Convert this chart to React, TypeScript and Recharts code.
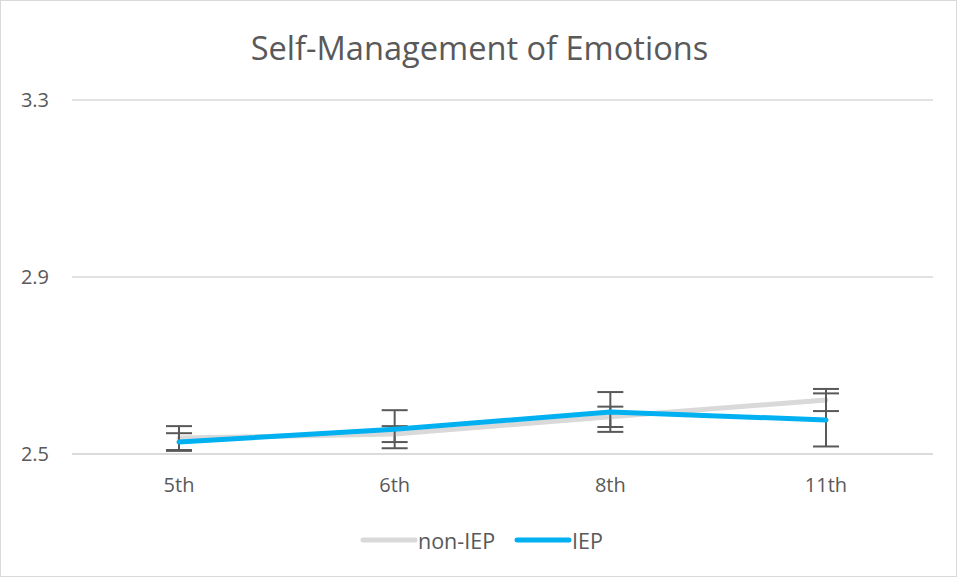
import React from "react";
import { LineChart, Line, XAxis, YAxis, CartesianGrid, Legend, ErrorBar } from "recharts";

const grades = ["5th", "6th", "8th", "11th"];
const nonIEP = [2.536, 2.545, 2.584, 2.622];
const nonIEPErr = [0.027, 0.018, 0.023, 0.025];
const iep = [2.527, 2.556, 2.595, 2.577];
const iepErr = [0.02, 0.043, 0.045, 0.06];
const yTicks = [2.5, 2.9, 3.3];
const legendOrder = ["non-IEP", "IEP"];

const data = grades.map((g, i) => ({
  grade: g,
  nonIEP: nonIEP[i],
  nonIEPErr: nonIEPErr[i],
  IEP: iep[i],
  IEPErr: iepErr[i],
}));

const FONT = "'Open Sans', sans-serif";
const TXT = "#595959";

const LegendContent = (props: any) => {
  const items = [...(props.payload || [])].sort(
    (a: any, b: any) => legendOrder.indexOf(a.value) - legendOrder.indexOf(b.value)
  );
  return (
    <div style={{ height: 30, display: "flex", justifyContent: "center", alignItems: "center", fontFamily: FONT, fontSize: 21.5, color: TXT, paddingLeft: 30, boxSizing: "border-box" }}>
      {items.map((it: any, i: number) => (
        <div key={i} style={{ display: "flex", alignItems: "center", marginLeft: i ? 19 : 0 }}>
          <svg width={58} height={10}>
            <line x1={3} y1={5} x2={55} y2={5} stroke={it.color} strokeWidth={5} strokeLinecap="round" />
          </svg>
          <span>{it.value}</span>
        </div>
      ))}
    </div>
  );
};

export default function App() {
  return (
    <div style={{ position: "absolute", left: 0, top: 0, width: 957, height: 577, boxSizing: "border-box", border: "1px solid #d9d9d9", background: "#fff" }}>
      <div style={{ position: "absolute", left: 0, top: 27, width: 957, textAlign: "center", fontFamily: FONT, fontSize: 32.6, lineHeight: "40px", color: TXT }}>
        Self-Management of Emotions
      </div>
      <div style={{ position: "absolute", left: -1, top: -1 }}>
        <LineChart width={957} height={577} data={data} margin={{ top: 100, right: 24, bottom: 0, left: 0 }}>
          <CartesianGrid vertical={false} stroke="#d9d9d9" strokeWidth={1.5} />
          <XAxis
            dataKey="grade"
            height={93}
            padding={{ left: 107, right: 107 }}
            tickLine={false}
            tickSize={0}
            tickMargin={24}
            axisLine={{ stroke: "#d9d9d9", strokeWidth: 1.5 }}
            tick={{ fill: TXT, fontSize: 20, fontFamily: FONT }}
          />
          <YAxis
            width={72}
            domain={[2.5, 3.3]}
            ticks={yTicks}
            tickLine={false}
            axisLine={false}
            tickSize={0}
            tickMargin={23}
            tick={{ fill: TXT, fontSize: 20, fontFamily: FONT }}
          />
          <Legend content={<LegendContent />} verticalAlign="bottom" wrapperStyle={{ bottom: 22 }} />
          <Line dataKey="nonIEP" name="non-IEP" type="linear" stroke="#d9d9d9" strokeWidth={5} dot={false} isAnimationActive={false} strokeLinecap="round">
            <ErrorBar dataKey="nonIEPErr" width={13} stroke={TXT} strokeWidth={2} direction="y" isAnimationActive={false} />
          </Line>
          <Line dataKey="IEP" name="IEP" type="linear" stroke="#00b0f0" strokeWidth={5} dot={false} isAnimationActive={false} strokeLinecap="round">
            <ErrorBar dataKey="IEPErr" width={13} stroke={TXT} strokeWidth={2} direction="y" isAnimationActive={false} />
          </Line>
        </LineChart>
      </div>
    </div>
  );
}
